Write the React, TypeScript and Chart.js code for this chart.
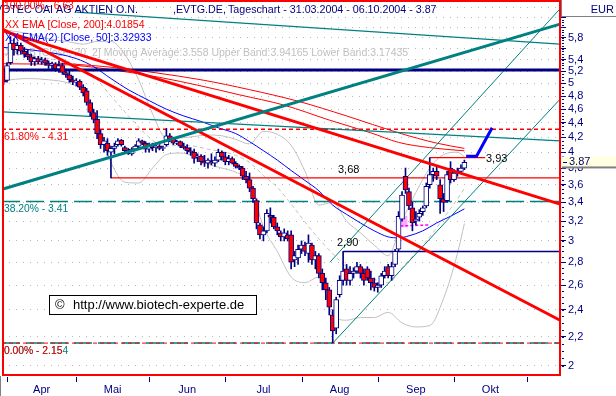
import React, { useEffect, useRef } from "react";
import { Chart, registerables } from "chart.js";

Chart.register(...registerables);

const FONT = '"Liberation Sans", Arial, sans-serif';
const NAVY = "#000080";
const RED = "#ff0000";
const TEAL = "#008080";
const GRAY = "#c0c0c0";

// trading-day index of first candle (31.03.2004); 0 = 01.04.2004
const FIRST_INDEX = -1;

const opens = [5.20, 5.05, 5.35, 5.70, 5.58, 5.66, 5.55, 5.50, 5.45, 5.36, 5.42, 5.36, 5.40, 5.34, 5.30, 5.33, 5.24, 5.30, 5.18, 5.14, 5.06, 5.02, 5.04, 4.94, 4.88, 4.70, 4.55, 4.45, 4.25, 4.10, 4.12, 4.00, 4.05, 4.10, 4.16, 4.06, 4.02, 3.98, 4.04, 4.08, 4.15, 4.12, 4.04, 4.10, 4.06, 4.08, 4.05, 4.10, 4.22, 4.18, 4.12, 4.14, 4.08, 4.06, 4.02, 4.00, 3.94, 3.95, 3.88, 3.86, 3.88, 3.86, 3.90, 4.00, 3.94, 3.88, 3.92, 3.86, 3.82, 3.80, 3.70, 3.66, 3.56, 3.42, 3.16, 3.06, 3.10, 3.26, 3.24, 3.14, 3.08, 3.04, 3.06, 3.06, 2.82, 2.84, 2.92, 2.96, 2.88, 2.96, 2.82, 2.86, 2.70, 2.62, 2.56, 2.36, 2.26, 2.52, 2.64, 2.74, 2.64, 2.70, 2.72, 2.76, 2.70, 2.74, 2.66, 2.62, 2.58, 2.60, 2.68, 2.76, 2.68, 2.78, 2.92, 3.22, 3.70, 3.52, 3.34, 3.20, 3.24, 3.30, 3.36, 3.60, 3.72, 3.76, 3.60, 3.44, 3.42, 3.80, 3.66, 3.74, 3.76, 3.80];
const highs = [5.26, 5.35, 5.82, 5.78, 5.72, 5.70, 5.62, 5.58, 5.50, 5.45, 5.46, 5.44, 5.43, 5.38, 5.36, 5.35, 5.38, 5.34, 5.24, 5.20, 5.12, 5.08, 5.06, 4.98, 4.92, 4.74, 4.60, 4.58, 4.30, 4.20, 4.18, 4.08, 4.12, 4.18, 4.17, 4.08, 4.05, 4.06, 4.10, 4.18, 4.16, 4.14, 4.12, 4.12, 4.10, 4.10, 4.08, 4.32, 4.25, 4.20, 4.16, 4.15, 4.12, 4.10, 4.06, 4.04, 3.98, 3.97, 3.96, 3.92, 3.98, 3.94, 4.04, 4.02, 4.00, 3.96, 3.94, 3.88, 3.84, 3.82, 3.76, 3.74, 3.58, 3.44, 3.18, 3.14, 3.32, 3.34, 3.26, 3.18, 3.10, 3.12, 3.10, 3.10, 2.90, 2.96, 3.00, 2.99, 3.06, 2.98, 2.90, 2.88, 2.74, 2.66, 2.58, 2.40, 2.50, 2.68, 2.90, 2.78, 2.76, 2.75, 2.80, 2.78, 2.74, 2.76, 2.72, 2.66, 2.62, 2.70, 2.76, 2.78, 2.80, 2.92, 3.30, 3.52, 3.80, 3.56, 3.40, 3.30, 3.32, 3.36, 3.62, 3.93, 3.80, 3.82, 3.66, 3.50, 3.76, 3.88, 3.78, 3.80, 3.84, 3.90];
const lows = [4.98, 5.02, 5.32, 5.48, 5.50, 5.50, 5.44, 5.40, 5.30, 5.30, 5.33, 5.32, 5.30, 5.25, 5.24, 5.20, 5.18, 5.15, 5.10, 5.02, 4.98, 4.96, 4.90, 4.80, 4.66, 4.50, 4.40, 4.18, 4.05, 4.00, 3.96, 3.68, 3.98, 4.08, 4.08, 4.00, 3.97, 3.96, 4.02, 4.06, 4.10, 4.00, 4.00, 4.02, 4.00, 4.03, 4.02, 4.08, 4.14, 4.10, 4.10, 4.06, 4.04, 3.98, 3.96, 3.86, 3.88, 3.84, 3.82, 3.80, 3.84, 3.82, 3.88, 3.90, 3.84, 3.84, 3.85, 3.80, 3.78, 3.66, 3.62, 3.52, 3.40, 3.12, 3.02, 3.00, 3.08, 3.18, 3.12, 3.06, 3.00, 3.00, 3.00, 2.74, 2.76, 2.78, 2.88, 2.86, 2.80, 2.78, 2.74, 2.66, 2.56, 2.48, 2.36, 2.154, 2.22, 2.50, 2.60, 2.60, 2.60, 2.66, 2.70, 2.66, 2.60, 2.64, 2.56, 2.55, 2.54, 2.58, 2.66, 2.66, 2.64, 2.76, 2.90, 3.20, 3.50, 3.32, 3.10, 3.16, 3.20, 3.26, 3.34, 3.56, 3.64, 3.66, 3.28, 3.30, 3.40, 3.62, 3.64, 3.70, 3.74, 3.78];
const closes = [5.02, 5.30, 5.70, 5.58, 5.66, 5.55, 5.50, 5.45, 5.36, 5.42, 5.36, 5.40, 5.34, 5.30, 5.33, 5.24, 5.30, 5.18, 5.14, 5.06, 5.02, 5.04, 4.94, 4.85, 4.70, 4.55, 4.45, 4.25, 4.10, 4.15, 4.02, 4.05, 4.08, 4.15, 4.10, 4.02, 4.00, 4.04, 4.08, 4.15, 4.12, 4.04, 4.10, 4.06, 4.08, 4.05, 4.06, 4.22, 4.18, 4.12, 4.14, 4.08, 4.06, 4.02, 4.00, 3.92, 3.95, 3.88, 3.86, 3.90, 3.86, 3.90, 4.00, 3.94, 3.88, 3.92, 3.86, 3.82, 3.80, 3.70, 3.66, 3.56, 3.44, 3.18, 3.06, 3.10, 3.28, 3.24, 3.14, 3.10, 3.04, 3.08, 3.02, 2.80, 2.86, 2.92, 2.96, 2.90, 2.98, 2.82, 2.86, 2.70, 2.62, 2.56, 2.42, 2.24, 2.48, 2.64, 2.72, 2.64, 2.70, 2.72, 2.76, 2.70, 2.64, 2.66, 2.62, 2.58, 2.60, 2.68, 2.72, 2.68, 2.76, 2.90, 3.25, 3.48, 3.54, 3.36, 3.18, 3.22, 3.28, 3.34, 3.58, 3.72, 3.76, 3.70, 3.44, 3.40, 3.72, 3.66, 3.74, 3.76, 3.80, 3.87];

// indicators (trading-day index, value)
const ema200Idx = [-1, 18, 25, 30, 44, 56, 67, 80, 93, 105, 113, 122, 132];
const ema200Val = [5.33, 5.31, 5.27, 5.23, 5.10, 4.96, 4.82, 4.66, 4.44, 4.26, 4.13, 4.06, 4.0185];
const redAvgIdx = [15.3, 30, 56, 70, 84, 98, 113, 124, 132];
const redAvgVal = [5.34, 5.27, 5.06, 4.90, 4.72, 4.50, 4.26, 4.12, 4.05];
const ema50Idx = [-1, 10, 20, 25, 30, 35, 41, 46, 51, 56, 61, 66, 70, 74, 78, 82, 86, 90, 94, 98, 102, 106, 110, 113, 116, 120, 124, 128, 132];
const ema50Val = [5.62, 5.55, 5.42, 5.28, 5.08, 4.90, 4.73, 4.60, 4.50, 4.42, 4.33, 4.25, 4.14, 4.02, 3.90, 3.77, 3.65, 3.53, 3.37, 3.27, 3.18, 3.10, 3.04, 3.03, 3.05, 3.10, 3.18, 3.25, 3.329];
const bbIdx = [-1, 6, 12, 18, 22, 26, 30, 34, 38, 42, 46, 50, 54, 58, 62, 66, 70, 74, 78, 82, 86, 90, 94, 98, 102, 106, 110, 114, 118, 122, 126, 130, 132];
const bbMid = [5.50, 5.48, 5.42, 5.36, 5.27, 5.06, 4.80, 4.56, 4.34, 4.16, 4.08, 4.09, 4.08, 4.04, 4.01, 3.96, 3.87, 3.71, 3.57, 3.38, 3.19, 3.02, 2.88, 2.76, 2.71, 2.65, 2.62, 2.75, 2.89, 3.04, 3.23, 3.44, 3.558];
const bbUpper = [5.95, 5.88, 5.78, 5.72, 5.68, 5.73, 5.73, 5.49, 5.06, 4.53, 4.19, 4.19, 4.21, 4.23, 4.22, 4.17, 4.11, 4.28, 4.24, 4.09, 3.76, 3.37, 3.40, 3.20, 3.08, 2.96, 2.86, 3.20, 3.51, 3.80, 3.97, 4.00, 3.94165];
const bbLower = [5.05, 5.08, 5.06, 5.00, 4.86, 4.39, 3.87, 3.63, 3.62, 3.80, 3.97, 3.99, 3.95, 3.85, 3.80, 3.75, 3.63, 3.14, 2.90, 2.67, 2.62, 2.67, 2.36, 2.32, 2.34, 2.34, 2.38, 2.30, 2.27, 2.28, 2.49, 2.88, 3.17435];

// drawn lines: [index, price] end points
const trendRed1 = [[-1.15, 5.93], [159.6, 3.38]];
const trendRed2 = [[-1.15, 5.96], [159.6, 2.32]];
const trendTealUp = [[-1.15, 3.55], [159.6, 6.06]];
const tealFlat1 = [[20, 6.30], [159.6, 5.68]];
const tealFlat2 = [[-1.15, 4.56], [159.6, 4.15]];
const channelUpper = [[93.2, 2.80], [159.6, 6.37]];
const channelLower = [[94, 2.154], [159.6, 4.75]];
const forecast = [[132.5, 3.95], [135.5, 3.95], [140, 4.33]];
const magentaLine = [[113.5, 3.15], [122, 3.16]];
const pinkBox = [114, 3.14, 3.25];

const resistanceLevel = 5.225;
const level368 = { from: 30, value: 3.68, label: "3,68" };
const level290 = { from: 97, value: 2.9, label: "2,90" };
const level393 = { from: 122, to: 138, value: 3.93, label: "3,93" };
const fib = [
  { label: "100.00% - 6.63", value: 6.63, color: RED },
  { label: "61.80% - 4.31", value: 4.31, color: RED },
  { label: "38.20% - 3.41", value: 3.41, color: TEAL },
  { label: "0.00% - 2.154", value: 2.154, color: TEAL },
  { label: "0.00% - 2.15", value: 2.154, color: RED },
];

const monthStarts = [0, 20, 41, 63, 85, 107, 129, 150];
const monthNames = ["Apr", "Mai", "Jun", "Jul", "Aug", "Sep", "Okt"];
const yTickValues = [2, 2.2, 2.4, 2.6, 2.8, 3, 3.2, 3.4, 3.6, 3.8, 4, 4.2, 4.4, 4.6, 4.8, 5, 5.2, 5.4, 5.6, 5.8, 6, 6.2, 6.4];
const yHiddenLabels = [5.6, 6, 6.2, 6.4];

const X_MIN = -1.443;
const X_MAX = 159.88;
const Y_MIN = 1.936;
const Y_MAX = 6.554;

function lineDs(points: number[][], color: string, width: number, order: number, dash: number[] = [], smooth = false): any {
  return {
    type: "line",
    data: points.map(([x, y]) => ({ x, y })),
    borderColor: color,
    borderWidth: width,
    borderDash: dash,
    pointRadius: 0,
    fill: false,
    cubicInterpolationMode: smooth ? "monotone" : "default",
    tension: smooth ? 0.4 : 0,
    clip: 0,
    order,
  };
}

const zip = (a: number[], b: number[]) => a.map((v, k) => [v, b[k]]);

const overlay = {
  id: "overlay",
  beforeDatasetsDraw(chart: any) {
    const ctx = chart.ctx;
    ctx.save();
    ctx.font = `10.5px ${FONT}`;
    ctx.fillStyle = GRAY;
    ctx.textBaseline = "middle";
    ctx.fillText("XX BB [Close, 20, 2] Moving Average:3.558 Upper Band:3.94165 Lower Band:3.17435", 5, 53.5);
    ctx.restore();
  },
  afterDatasetsDraw(chart: any) {
    const ctx = chart.ctx;
    const y = chart.scales.y;
    ctx.save();
    ctx.textBaseline = "middle";
    // header
    ctx.font = `10.7px ${FONT}`;
    ctx.fillStyle = NAVY;
    ctx.textAlign = "right";
    ctx.fillText("EVOTEC OAI AG AKTIEN O.N.", 138, 10.5);
    ctx.textAlign = "left";
    ctx.fillText(",EVTG.DE,", 173, 10.5);
    ctx.fillText("Tageschart - 31.03.2004 - 06.10.2004 - 3.87", 228, 10.5);
    // legend
    ctx.font = `10.5px ${FONT}`;
    ctx.fillStyle = RED;
    ctx.fillText("XX EMA [Close, 200]:4.01854", 5, 25);
    ctx.fillStyle = "#0000ff";
    ctx.fillText("XX EMA(2) [Close, 50]:3.32933", 5, 38.5);
    // fibonacci labels
    ctx.font = `10.3px ${FONT}`;
    fib.forEach((f) => {
      ctx.fillStyle = f.color;
      const py = f.value > 6 ? 6 : y.getPixelForValue(f.value) + 8;
      ctx.fillText(f.label, 4, py);
    });
    // level labels
    ctx.font = `11px ${FONT}`;
    ctx.fillStyle = "#000000";
    ctx.fillText(level368.label, 338, y.getPixelForValue(level368.value) - 7.5);
    ctx.fillText(level290.label, 337, y.getPixelForValue(level290.value) - 8);
    ctx.fillText(level393.label, 486, y.getPixelForValue(level393.value) + 1);
    // copyright box
    ctx.fillStyle = "#ffffff";
    ctx.fillRect(49, 295, 207, 19);
    ctx.strokeStyle = "#000000";
    ctx.lineWidth = 1;
    ctx.strokeRect(49.5, 295.5, 207, 19);
    ctx.fillStyle = "#000000";
    ctx.font = `13px ${FONT}`;
    ctx.fillText("\u00A9", 55, 305);
    ctx.fillText("http://www.biotech-experte.de", 73, 305);
    ctx.restore();
  },
  afterDraw(chart: any) {
    const ctx = chart.ctx;
    const { left, right, top, bottom } = chart.chartArea;
    const x = chart.scales.x;
    const y = chart.scales.y;
    ctx.save();
    // plot frame
    ctx.strokeStyle = RED;
    ctx.lineWidth = 2;
    ctx.strokeRect(left + 1, top + 1, right - left - 2, bottom - top - 2);
    // x axis extras
    ctx.fillStyle = "#808080";
    ctx.fillRect(0, bottom, 1, 396 - bottom);
    ctx.fillStyle = NAVY;
    monthStarts.forEach((m) => {
      const px = Math.round(x.getPixelForValue(m));
      if (px > left && px < right) ctx.fillRect(px, bottom + 1, 1, 5);
    });
    // minor ticks on price axis
    for (let v = 2; v < 6.5; v += 0.05) {
      const py = Math.round(y.getPixelForValue(v));
      if (py > 18 && py < bottom) ctx.fillRect(right + 1, py, 2, 1);
    }
    // EUR box
    ctx.fillStyle = "#ffffff";
    ctx.fillRect(right, 0, 616 - right, 17);
    ctx.fillStyle = "#808080";
    ctx.fillRect(right, 16, 616 - right, 1);
    ctx.fillRect(right, 0, 1, 17);
    ctx.fillStyle = NAVY;
    ctx.font = `11px ${FONT}`;
    ctx.textBaseline = "middle";
    ctx.textAlign = "right";
    ctx.fillText("EUR", 614, 10);
    // last price box
    const lp = y.getPixelForValue(closes[closes.length - 1]);
    ctx.fillStyle = "#ffffe1";
    ctx.fillRect(right + 1, lp - 6, 616 - right, 11);
    ctx.fillStyle = "#808080";
    ctx.fillRect(right + 1, lp + 4, 616 - right, 2);
    ctx.fillStyle = NAVY;
    ctx.fillRect(right + 2, Math.round(lp), 4, 1);
    ctx.textAlign = "left";
    ctx.fillText("3.87", 569, lp);
    ctx.restore();
  },
};

export default function App() {
  const ref = useRef<HTMLCanvasElement>(null);
  useEffect(() => {
    document.body.style.margin = "0";
    const idx = opens.map((_, k) => FIRST_INDEX + k);
    const wicks = idx.map((xv, k) => ({ x: xv, y: [lows[k], highs[k]] }));
    const bodies = idx.map((xv, k) => ({ x: xv, y: [opens[k], closes[k]] }));
    const bodyColors = idx.map((_, k) => (closes[k] < opens[k] ? RED : "#ffffff"));
    const fullWidth = (v: number) => [[X_MIN, v], [X_MAX, v]];

    const datasets: any[] = [
      lineDs(zip(bbIdx, bbUpper), GRAY, 1, 100, [], true),
      lineDs(zip(bbIdx, bbLower), GRAY, 1, 99, [], true),
      lineDs(zip(bbIdx, bbMid), GRAY, 1, 98, [4, 3], true),
      lineDs(zip(ema200Idx, ema200Val), RED, 1, 97, [], true),
      lineDs(zip(ema50Idx, ema50Val), "#0000ff", 1, 96, [], true),
      lineDs(zip(redAvgIdx, redAvgVal), RED, 1, 95, [], true),
      lineDs(fullWidth(fib[1].value), RED, 1.5, 94, [4, 3]),
      lineDs(fullWidth(fib[2].value), TEAL, 1.5, 93, [18, 6]),
      lineDs(fullWidth(fib[3].value), TEAL, 1.5, 92, [18, 6]),
      lineDs(fullWidth(fib[4].value), RED, 1, 91, [4, 3]),
      lineDs(tealFlat1, TEAL, 1.2, 90),
      lineDs(tealFlat2, TEAL, 1.2, 89),
      lineDs(channelUpper, TEAL, 1, 88),
      lineDs(channelLower, TEAL, 1, 87),
      lineDs(fullWidth(resistanceLevel), NAVY, 3, 86),
      lineDs([[level368.from, level368.value], [X_MAX, level368.value]], RED, 1.2, 85),
      lineDs([[level290.from, level290.value], [X_MAX, level290.value]], NAVY, 1.5, 84),
      lineDs([[level393.from, level393.value], [level393.to, level393.value]], RED, 1.2, 83),
      {
        type: "bar",
        data: [{ x: pinkBox[0], y: [pinkBox[1], pinkBox[2]] }],
        backgroundColor: "#ffa8ff",
        borderWidth: 0,
        barThickness: 10,
        grouped: false,
        order: 82,
      },
      lineDs(magentaLine, "#ff00ff", 1.5, 81, [3, 2]),
      {
        type: "bar",
        data: wicks,
        backgroundColor: NAVY,
        borderWidth: 0,
        barThickness: 1,
        grouped: false,
        order: 80,
      },
      {
        type: "bar",
        data: bodies,
        backgroundColor: bodyColors,
        borderColor: NAVY,
        borderWidth: 1,
        borderSkipped: false,
        barThickness: 5,
        grouped: false,
        order: 79,
      },
      lineDs(trendRed1, RED, 3, 78),
      lineDs(trendRed2, RED, 3, 77),
      lineDs(trendTealUp, TEAL, 3, 76),
      lineDs(forecast, "#0000ff", 3, 75),
    ];

    const monthMids = monthStarts.slice(0, -1).map((m, k) => (m + monthStarts[k + 1]) / 2);

    const chart = new Chart(ref.current as HTMLCanvasElement, {
      type: "bar",
      data: { datasets },
      plugins: [overlay],
      options: {
        responsive: false,
        animation: false,
        events: [],
        layout: { padding: { left: 2, top: 0, right: 0, bottom: 0 } },
        plugins: { legend: { display: false }, tooltip: { enabled: false } },
        scales: {
          x: {
            type: "linear",
            min: X_MIN,
            max: X_MAX,
            offset: false,
            grid: { display: false, drawTicks: false },
            border: { display: false },
            ticks: {
              padding: 7,
              color: NAVY,
              font: { family: FONT, size: 11 },
              maxRotation: 0,
              autoSkip: false,
              callback: (_v: any, i: number) => monthNames[i],
            },
            afterBuildTicks: (s: any) => {
              s.ticks = monthMids.map((v) => ({ value: v }));
            },
            afterFit: (s: any) => {
              s.height = 20;
              s.paddingLeft = 0;
              s.paddingRight = 0;
            },
          },
          y: {
            type: "logarithmic",
            position: "right",
            min: Y_MIN,
            max: Y_MAX,
            grid: { color: "#b8b8b8", lineWidth: 1, tickLength: 5, tickColor: NAVY, tickWidth: 1 },
            border: { display: false, dash: [1, 6] },
            ticks: {
              padding: 2,
              color: NAVY,
              font: { family: FONT, size: 11 },
              autoSkip: false,
              callback: (v: any) => {
                const r = Math.round(Number(v) * 10) / 10;
                if (yHiddenLabels.some((h) => Math.abs(h - r) < 1e-6)) return "";
                return String(r).replace(".", ",");
              },
            },
            afterBuildTicks: (s: any) => {
              s.ticks = yTickValues.map((v) => ({ value: v }));
            },
            afterFit: (s: any) => {
              s.width = 55;
              s.paddingTop = 0;
              s.paddingBottom = 0;
            },
          },
        },
      } as any,
    } as any);
    return () => chart.destroy();
  }, []);
  return (
    <div style={{ width: 616, height: 396, background: "#ffffff" }}>
      <canvas ref={ref} width={616} height={396} style={{ display: "block", width: 616, height: 396 }} />
    </div>
  );
}
